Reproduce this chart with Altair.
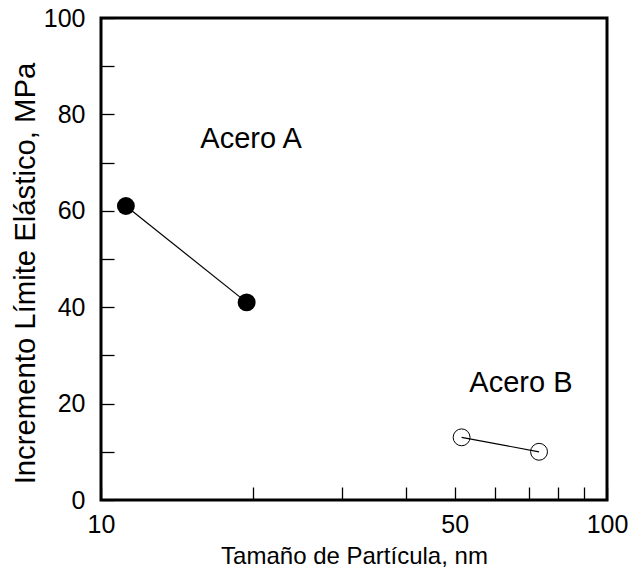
import altair as alt
import pandas as pd

# Data
series = ["Acero A", "Acero A", "Acero B", "Acero B"]
size_nm = [11.2, 19.4, 51.6, 73.4]
delta_mpa = [61, 41, 13, 10]

label_text = ["Acero A", "Acero B"]
label_x = [19.8, 67.6]
label_y = [75, 24.2]

x_ticks = [10, 20, 30, 40, 50, 60, 70, 80, 90, 100]
x_labels = [10, 50, 100]
y_ticks = [0, 10, 20, 30, 40, 50, 60, 70, 80, 90, 100]
y_labels = [0, 20, 40, 60, 80, 100]

df = pd.DataFrame({"serie": series, "x": size_nm, "y": delta_mpa})
lab = pd.DataFrame({"t": label_text, "x": label_x, "y": label_y})

FONT = "Liberation Sans"

xs = alt.Scale(type="log", domain=[10, 100], nice=False)
ys = alt.Scale(domain=[0, 100], nice=False, zero=True)

x_lab_list = ",".join(str(v) for v in x_labels)
y_lab_list = ",".join(str(v) for v in y_labels)

xax = alt.Axis(
    values=x_ticks,
    labelExpr=f"indexof([{x_lab_list}], datum.value) >= 0 ? format(datum.value, 'd') : ''",
    title="Tamaño de Partícula, nm",
    offset=-13, tickSize=13, labelPadding=12, titlePadding=7, titleFontSize=24,
    domain=False, grid=False, labelFlush=False, labelOverlap=False,
)
yax = alt.Axis(
    values=y_ticks,
    labelExpr=f"indexof([{y_lab_list}], datum.value) >= 0 ? format(datum.value, 'd') : ''",
    title="Incremento Límite Elástico, MPa",
    offset=-13, tickSize=13, labelPadding=16, titlePadding=3, titleFontSize=29.3,
    titleY=255,
    domain=False, grid=False, labelFlush=False, labelOverlap=False,
)

X = alt.X("x:Q", scale=xs, axis=xax)
Y = alt.Y("y:Q", scale=ys, axis=yax)

base = alt.Chart(df)

lines = base.mark_line(color="black", strokeWidth=1.2).encode(x=X, y=Y, detail="serie:N")

filled = base.transform_filter(alt.datum.serie == "Acero A").mark_point(
    shape="circle", filled=True, color="black", size=320, opacity=1
).encode(x=X, y=Y)

hollow = base.transform_filter(alt.datum.serie == "Acero B").mark_point(
    shape="circle", filled=False, color="black", size=285, strokeWidth=1, opacity=1
).encode(x=X, y=Y)

texts = alt.Chart(lab).mark_text(
    font=FONT, fontSize=29, color="black", align="center", baseline="middle"
).encode(x=X, y=Y, text="t:N")

chart = alt.layer(lines, filled, hollow, texts).properties(
    width=506, height=482,
    autosize="none",
    padding={"left": 101, "top": 18, "right": 26, "bottom": 71},
    background="white",
).configure_view(
    stroke="black", strokeWidth=3
).configure_axis(
    labelFont=FONT, titleFont=FONT, labelFontSize=25,
    labelColor="black", titleColor="black", tickColor="black", tickWidth=1.3,
    titleFontWeight="normal",
)

chart.save("out.html", embed_options={"renderer": "svg", "actions": False})
